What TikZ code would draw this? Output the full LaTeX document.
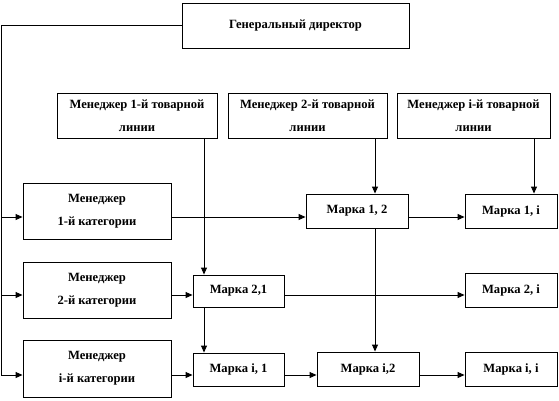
\documentclass[tikz,border=0pt]{standalone}
\usepackage{fontspec}
\setmainfont{Liberation Serif}
\usetikzlibrary{arrows.meta}
\tikzset{
  box/.style={draw, line width=0.9pt, rectangle, inner sep=0pt, align=center,
    font=\fontsize{12.6}{23}\selectfont\bfseries},
  conn/.style={line width=0.9pt},
  arr/.style={line width=0.9pt, -{Triangle[length=7pt,width=6pt]}}
}
\begin{document}
\begin{tikzpicture}[x=1pt,y=-1pt]
\useasboundingbox (0,0) rectangle (559,401);
% boxes
\node[box, minimum width=227pt, minimum height=45pt] (gd) at (295.5,25.5) {Генеральный директор};
\node[box, minimum width=160pt, minimum height=45pt] (pl1) at (137,115.5) {Менеджер 1-й товарной\\линии};
\node[box, minimum width=159pt, minimum height=45pt] (pl2) at (307.5,115.5) {Менеджер 2-й товарной\\линии};
\node[box, minimum width=153pt, minimum height=45pt] (pl3) at (473.5,115.5) {Менеджер i-й товарной\\линии};
\node[box, minimum width=148pt, minimum height=56pt] (cat1) at (97,211) {Менеджер\\1-й категории};
\node[box, minimum width=148pt, minimum height=56pt] (cat2) at (97,290) {Менеджер\\2-й категории};
\node[box, minimum width=148pt, minimum height=57pt] (cat3) at (97,368.5) {Менеджер\\i-й категории};
\node[box, minimum width=102pt, minimum height=34pt] (m12) at (357,211) {Марка 1, 2};
\node[box, minimum width=92pt, minimum height=34pt] (m1i) at (511,211) {Марка 1, i};
\node[box, minimum width=91pt, minimum height=32pt] (m21) at (238.5,291) {Марка 2,1};
\node[box, minimum width=92pt, minimum height=34pt] (m2i) at (511,290) {Марка 2, i};
\node[box, minimum width=91pt, minimum height=33pt] (mi1) at (238.5,369.5) {Марка i, 1};
\node[box, minimum width=102pt, minimum height=34pt] (mi2) at (368,369) {Марка i,2};
\node[box, minimum width=92pt, minimum height=34pt] (mii) at (511,369) {Марка i, i};
% trunk coordinates
\coordinate (L1) at (1,217);
\coordinate (L2) at (1,295);
\coordinate (L3) at (1,375);
\coordinate (X1) at (204,0);
\coordinate (X2) at (375,0);
\coordinate (X3) at (534,0);
% trunk
\draw[conn] (gd.west) -- (gd.west -| L3) -- (L3);
\draw[arr] (L1) -- (L1 -| cat1.west);
\draw[arr] (L2) -- (L2 -| cat2.west);
\draw[arr] (L3) -- (L3 -| cat3.west);
% row 1
\draw[arr] (L1 -| cat1.east) -- (L1 -| m12.west);
\draw[arr] (L1 -| m12.east) -- (L1 -| m1i.west);
% row 2
\draw[arr] (L2 -| cat2.east) -- (L2 -| m21.west);
\draw[arr] (L2 -| m21.east) -- (L2 -| m2i.west);
% row 3
\draw[arr] (L3 -| cat3.east) -- (L3 -| mi1.west);
\draw[arr] (L3 -| mi1.east) -- (L3 -| mi2.west);
\draw[arr] (L3 -| mi2.east) -- (L3 -| mii.west);
% verticals
\draw[arr] (X1 |- pl1.south) -- (X1 |- m21.north);
\draw[arr] (X2 |- pl2.south) -- (X2 |- m12.north);
\draw[arr] (X3 |- pl3.south) -- (X3 |- m1i.north);
\draw[arr] (X1 |- m21.south) -- (X1 |- mi1.north);
\draw[arr] (X2 |- m12.south) -- (X2 |- mi2.north);
\end{tikzpicture}
\end{document}
